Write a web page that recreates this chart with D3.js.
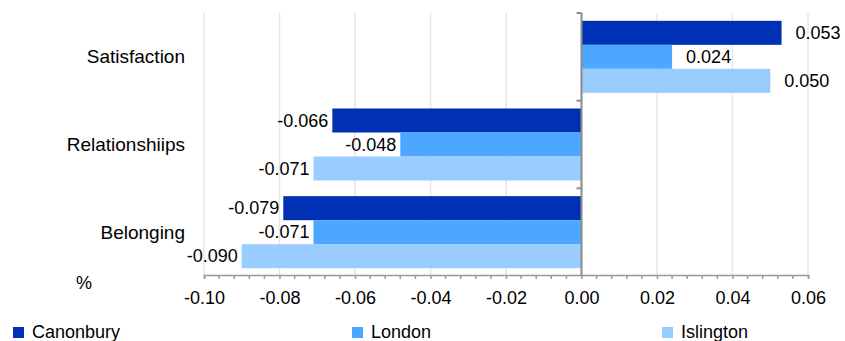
<!DOCTYPE html>
<html>
<head>
<meta charset="utf-8">
<script src="https://cdn.jsdelivr.net/npm/d3@7"></script>
<style>
  body { margin: 0; background: #fff; }
  svg { display: block; font-family: "Liberation Sans", Arial, sans-serif; }
</style>
</head>
<body>
<svg id="chart" width="845" height="341"></svg>
<script>
const categories = ["Satisfaction", "Relationshiips", "Belonging"];
const seriesNames = ["Canonbury", "London", "Islington"];
const canonbury = [0.053, -0.066, -0.079];
const london = [0.024, -0.048, -0.071];
const islington = [0.050, -0.071, -0.090];
const tickValues = [-0.10, -0.08, -0.06, -0.04, -0.02, 0.00, 0.02, 0.04, 0.06];
const colors = ["#0030b3", "#4da6ff", "#99ccff"];

const seriesValues = [canonbury, london, islington];
const data = categories.map((c, i) => ({
  category: c,
  values: seriesNames.map((s, j) => ({ series: s, value: seriesValues[j][i], color: colors[j] }))
}));

const hyph = f => v => f(v).replace("\u2212", "-");
const fmt3 = hyph(d3.format(".3f"));
const fmt2 = hyph(d3.format(".2f"));

const svg = d3.select("#chart");
const x = d3.scaleLinear().domain([-0.10, 0.06]).range([204, 808]);
const y = d3.scaleBand().domain(categories).range([13, 276]).paddingInner(0).paddingOuter(0);
const y1 = d3.scaleBand().domain(seriesNames).range([0, y.bandwidth()]).paddingInner(0).paddingOuter(0.326);

// gridlines
svg.append("g").selectAll("line").data(tickValues).join("line")
  .attr("x1", d => x(d)).attr("x2", d => x(d))
  .attr("y1", 13).attr("y2", 276)
  .attr("stroke", "#e6e6e6").attr("stroke-width", 1.5);

// bars
const groups = svg.append("g").selectAll("g").data(data).join("g")
  .attr("transform", d => `translate(0,${y(d.category)})`);
groups.selectAll("rect").data(d => d.values).join("rect")
  .attr("x", d => x(Math.min(0, d.value)))
  .attr("width", d => Math.abs(x(d.value) - x(0)))
  .attr("y", d => y1(d.series))
  .attr("height", y1.bandwidth())
  .attr("fill", d => d.color);

// data labels
groups.selectAll("text").data(d => d.values).join("text")
  .attr("x", d => d.value >= 0 ? x(d.value) + 14 : x(d.value) - 4)
  .attr("y", d => y1(d.series) + y1.bandwidth() / 2)
  .attr("dy", "0.35em")
  .attr("text-anchor", d => d.value >= 0 ? "start" : "end")
  .attr("font-size", 18)
  .attr("fill", "#000")
  .text(d => fmt3(d.value));

// bottom axis
const xAxis = d3.axisBottom(x).tickValues(tickValues).tickFormat(fmt2).tickSize(4).tickPadding(12);
const ax = svg.append("g").attr("transform", "translate(0,275)").call(xAxis);
ax.select(".domain").attr("stroke", "#999").attr("stroke-width", 1.5);
ax.selectAll(".tick line").attr("stroke", "#999").attr("stroke-width", 1.5);
ax.selectAll(".tick text").attr("font-size", 18).attr("fill", "#000")
  .attr("font-family", "Liberation Sans, Arial, sans-serif");
// minor ticks
const minor = d3.range(0, 41).map(i => -0.10 + i * 0.004).filter(v => !tickValues.some(t => Math.abs(t - v) < 1e-9));
ax.selectAll(".minor").data(minor).join("line").attr("class", "minor")
  .attr("x1", d => x(d)).attr("x2", d => x(d)).attr("y1", 0).attr("y2", 4)
  .attr("stroke", "#999").attr("stroke-width", 1.5);

// zero (category) axis
const zeroG = svg.append("g").attr("transform", `translate(${x(0)},0)`);
zeroG.append("line").attr("x1", 0).attr("x2", 0).attr("y1", 13).attr("y2", 276)
  .attr("stroke", "#8c8c8c").attr("stroke-width", 2);
const bounds = [13, y("Relationshiips"), y("Belonging")];
zeroG.selectAll(".bt").data(bounds).join("line").attr("class", "bt")
  .attr("x1", -5).attr("x2", 0).attr("y1", d => d).attr("y2", d => d)
  .attr("stroke", "#8c8c8c").attr("stroke-width", 2);

// category labels
svg.append("g").selectAll("text").data(categories).join("text")
  .attr("x", 185)
  .attr("y", d => y(d) + y.bandwidth() / 2)
  .attr("dy", "0.35em")
  .attr("text-anchor", "end")
  .attr("font-size", 19)
  .attr("fill", "#000")
  .text(d => d);

// axis unit
svg.append("text").attr("x", 84).attr("y", 289).attr("text-anchor", "middle")
  .attr("font-size", 18).attr("fill", "#000").text("%");

// legend
const legendX = [13, 352, 662];
const lg = svg.append("g").selectAll("g").data(seriesNames).join("g")
  .attr("transform", (d, i) => `translate(${legendX[i]},327)`);
lg.append("rect").attr("width", 11).attr("height", 11).attr("fill", (d, i) => colors[i]);
lg.append("text").attr("x", 19).attr("y", 11).attr("font-size", 18).attr("fill", "#000").text(d => d);
</script>
</body>
</html>
